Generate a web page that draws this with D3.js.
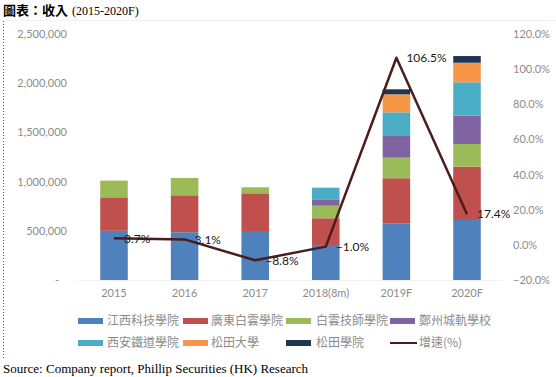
<!DOCTYPE html>
<html>
<head>
<meta charset="utf-8">
<script src="https://cdn.jsdelivr.net/npm/d3@7"></script>
<style>
  body { margin: 0; background: #fff; }
  svg { display: block; }
  .tick text { fill: #8c8c8c; font-family: Lato, "Noto Sans", sans-serif; font-size: 11px; }
</style>
</head>
<body>
<div id="chart"></div>
<script>
// categories and series
const years = ['2015', '2016', '2017', '2018(8m)', '2019F', '2020F'];
const schools = ['江西科技學院', '廣東白雲學院', '白雲技師學院', '鄭州城軌學校', '西安鐵道學院', '松田大學', '松田學院'];
const jiangxi   = [500000, 485000, 498000, 356000, 576000, 610000];
const guangdong = [340000, 376000, 383000, 271000, 458000, 542000];
const baiyun    = [170000, 176000,  61000, 128000, 209000, 230000];
const zhengzhou = [     0,      0,      0,  65000, 220000, 288000];
const xian      = [     0,      0,      0, 118000, 241000, 339000];
const songtianU = [     0,      0,      0,      0, 183000, 199000];
const songtianC = [     0,      0,      0,      0,  51000,  68000];
const growth = [3.7, 3.1, -8.8, -1.0, 106.5, 17.4];
const leftTicks = [0, 500000, 1000000, 1500000, 2000000, 2500000];
const rightTicks = [-20, 0, 20, 40, 60, 80, 100, 120];

const colors = ['#4f81bd', '#c0504d', '#9bbb59', '#8064a2', '#4bacc6', '#f79646', '#1f3552'];
const lineColor = '#4a1c1c';

const W = 556, H = 377;
const svg = d3.select('#chart').append('svg')
    .attr('width', W)
    .attr('height', H);

// title
const title = svg.append('text')
    .attr('x', 3)
    .attr('y', 15);
title.append('tspan')
    .attr('font-family', '"Noto Sans CJK TC", sans-serif')
    .attr('font-weight', 'bold')
    .attr('font-size', 13)
    .text('圖表：收入');
title.append('tspan')
    .attr('dx', 4)
    .attr('font-family', '"Liberation Serif", serif')
    .attr('font-size', 12)
    .text('(2015-2020F)');

// frame: dotted left edge, faint top edge
svg.append('line')
    .attr('x1', 3.5).attr('x2', 3.5)
    .attr('y1', 21).attr('y2', 360)
    .attr('stroke', '#555')
    .attr('stroke-dasharray', '1,2');
svg.append('line')
    .attr('x1', 4).attr('x2', W)
    .attr('y1', 20.5).attr('y2', 20.5)
    .attr('stroke', '#f0f0f0');

// scales
const x = d3.scaleBand()
    .domain(years)
    .range([78.7, 502.3])
    .paddingInner(0.61)
    .paddingOuter(0.305);

const y = d3.scaleLinear()
    .domain([0, 2500000])
    .range([280, 34]);

const yR = d3.scaleLinear()
    .domain([-20, 120])
    .range([280, 34]);

// baseline
svg.append('line')
    .attr('x1', 78).attr('x2', 503)
    .attr('y1', 280.5).attr('y2', 280.5)
    .attr('stroke', '#f2f2f2');

// axes
const axisL = d3.axisLeft(y)
    .tickValues(leftTicks)
    .tickSize(0)
    .tickPadding(0)
    .tickFormat(d => d === 0 ? '-' : d3.format(',')(d));
const axisLNode = svg.append('g')
    .attr('transform', 'translate(67,0)')
    .call(axisL);
axisLNode.select('.domain').remove();
axisLNode.selectAll('.tick text').filter(d => d === 0).attr('dx', -8);

const axisR = d3.axisRight(yR)
    .tickValues(rightTicks)
    .tickSize(0)
    .tickPadding(0)
    .tickFormat(d => d3.format('.1f')(d) + '%');
const axisRNode = svg.append('g')
    .attr('transform', 'translate(513,0)')
    .call(axisR);
axisRNode.select('.domain').remove();

const axisB = d3.axisBottom(x)
    .tickSize(0)
    .tickPadding(0);
const axisBNode = svg.append('g')
    .attr('transform', 'translate(0,289)')
    .call(axisB);
axisBNode.select('.domain').remove();

// stacked bars
const table = years.map((yr, i) => {
    const row = {year: yr};
    [jiangxi, guangdong, baiyun, zhengzhou, xian, songtianU, songtianC]
        .forEach((s, k) => { row[schools[k]] = s[i]; });
    return row;
});
const stacked = d3.stack().keys(schools)(table);

svg.append('g')
    .selectAll('g')
    .data(stacked)
    .join('g')
    .attr('fill', (d, i) => colors[i])
    .selectAll('rect')
    .data(d => d)
    .join('rect')
    .attr('x', d => x(d.data.year))
    .attr('width', x.bandwidth())
    .attr('y', d => y(d[1]))
    .attr('height', d => y(d[0]) - y(d[1]));

// growth line
const pts = years.map((yr, i) => ({year: yr, v: growth[i]}));
const line = d3.line()
    .x(d => x(d.year) + x.bandwidth() / 2)
    .y(d => yR(d.v));
svg.append('path')
    .datum(pts)
    .attr('d', line)
    .attr('fill', 'none')
    .attr('stroke', lineColor)
    .attr('stroke-width', 2.5)
    .attr('stroke-linejoin', 'round');

svg.append('g')
    .selectAll('text')
    .data(pts)
    .join('text')
    .attr('x', d => x(d.year) + x.bandwidth() / 2 + 10)
    .attr('y', d => yR(d.v))
    .attr('dy', '0.35em')
    .attr('font-family', 'Lato, sans-serif')
    .attr('font-size', 12)
    .attr('fill', '#1a1a1a')
    .text(d => d3.format('.1f')(d.v) + '%');

// legend
const legendItems = schools.map((s, i) => ({name: s, color: colors[i], kind: 'bar'}))
    .concat([{name: '增速(%)', color: lineColor, kind: 'line'}]);
const colX = [78, 183, 286, 390];
const textX = [107, 211, 316, 419];
const rowY = [321, 343];

const legend = svg.append('g')
    .selectAll('g')
    .data(legendItems)
    .join('g');

legend.filter(d => d.kind === 'bar')
    .append('rect')
    .attr('x', (d, i) => colX[i % 4])
    .attr('y', (d, i) => rowY[Math.floor(i / 4)] - 3)
    .attr('width', 25)
    .attr('height', 6)
    .attr('fill', d => d.color);

legend.filter(d => d.kind === 'line')
    .append('line')
    .attr('x1', colX[3]).attr('x2', colX[3] + 27)
    .attr('y1', rowY[1]).attr('y2', rowY[1])
    .attr('stroke', d => d.color)
    .attr('stroke-width', 2);

legend.append('text')
    .attr('x', (d, i) => textX[i % 4])
    .attr('y', (d, i) => rowY[Math.floor(i / 4)])
    .attr('dy', '0.36em')
    .attr('font-family', '"Noto Sans CJK TC", sans-serif')
    .attr('font-size', 12)
    .attr('fill', '#8c8c8c')
    .text(d => d.name);

// source
svg.append('text')
    .attr('x', 3)
    .attr('y', 373)
    .attr('font-family', '"Liberation Serif", serif')
    .attr('font-size', 13)
    .attr('fill', '#000')
    .text('Source: Company report, Phillip Securities (HK) Research');
</script>
</body>
</html>
